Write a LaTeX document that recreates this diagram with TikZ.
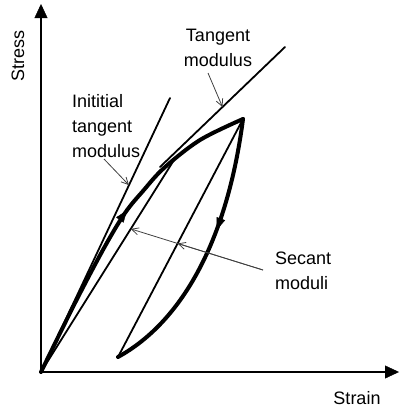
\documentclass[tikz,border=0pt]{standalone}
\usepackage{fontspec}
\setmainfont{Liberation Sans}
\usetikzlibrary{arrows.meta,decorations.markings,calc}
\begin{document}
\begin{tikzpicture}[x=1pt,y=-1pt,
  axis/.style={line width=1.6pt,-{Triangle[length=14pt,width=13pt,line width=0.4pt]}},
  modline/.style={line width=1.8pt,line cap=round},
  curvebold/.style={line width=4pt,line cap=round,line join=round},
  leader/.style={line width=0.8pt,draw=black!75,-{Straight Barb[length=7pt,width=7pt,line width=0.8pt]}},
  lbl/.style={font=\fontsize{18}{25}\selectfont,inner sep=0pt},
  midarrow/.style={postaction={decorate,decoration={markings,
     mark=at position #1 with {\arrow{Triangle[length=12pt,width=9pt,line width=0.4pt]}}}}},
]
\useasboundingbox (0,0) rectangle (399,407);
% key points
\coordinate (O) at (41,372);
\coordinate (ytip) at (41,4);
\coordinate (xtip) at (399,372);
\coordinate (P) at (243,119);
\coordinate (U) at (118,357);
\coordinate (IT) at (170,98);
\coordinate (T1) at (160,167);
\coordinate (T2) at (285,47);
\coordinate (S1) at (174,160);
% axes
\draw[axis] (O) -- (ytip);
\draw[axis] (O) -- (xtip);
% straight modulus lines
\draw[modline] (O) -- (IT);
\draw[modline] (T1) -- (T2);
\draw[modline] (O) -- (S1);
\draw[modline] (U) -- (P);
% loading curve
\draw[curvebold,midarrow=0.55] plot[smooth,tension=0.55] coordinates
  {(O) (75,303) (104,248) (125,213) (143,191) (164,168) (200,140) (P)};
% unloading curve
\draw[curvebold,midarrow=0.41] (P) .. controls (228,235) and (185,320) .. (U);
% labels
\node[lbl,rotate=90] (stress) at (18,56) {Stress};
\node[lbl] (strain) at (357,398) {Strain};
\node[lbl,align=center,anchor=north] (tanlbl) at (218,29) {Tangent\\modulus};
\node[lbl,align=left,anchor=north west] (initlbl) at (72,94) {Inititial\\tangent\\modulus};
\node[lbl,align=left,anchor=north west] (seclbl) at (275,252) {Secant\\moduli};
% leaders
\coordinate (L0) at (263,270);
\coordinate (L1) at ($(O)!0.675!(S1)$);
\draw[leader] (104,159) -- ($(O)!0.682!(IT)$);
\draw[leader] (208,73) -- ($(T1)!0.5!(T2)$);
\draw[leader] (L0) -- (intersection of L0--L1 and U--P);
\draw[leader] (L0) -- (L1);
\end{tikzpicture}
\end{document}
